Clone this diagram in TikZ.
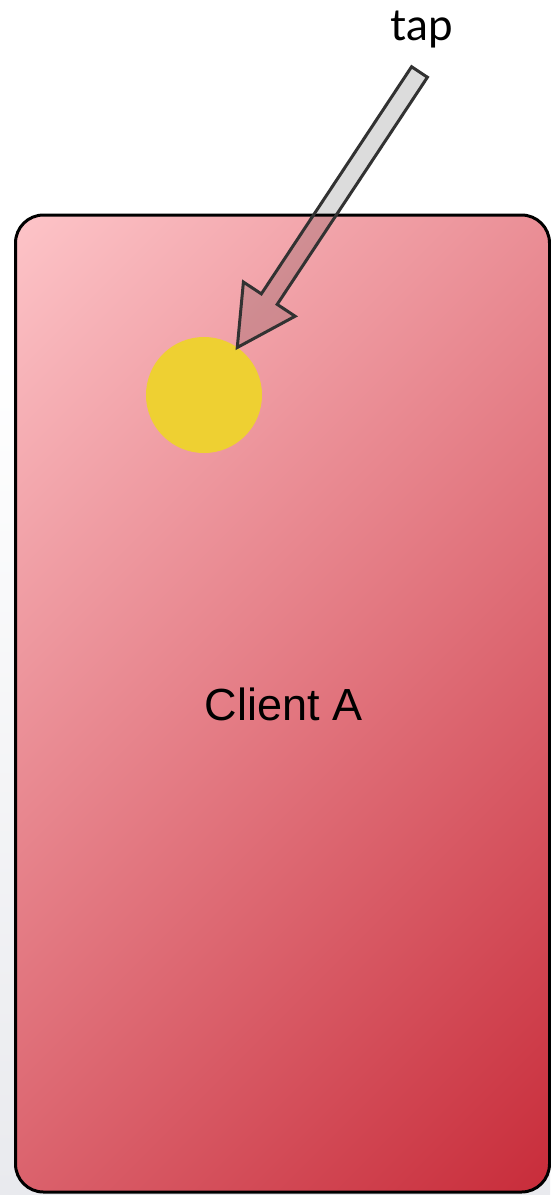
\documentclass[tikz,border=0pt]{standalone}
\usepackage{fontspec}
\setmainfont{Liberation Sans}
\newfontfamily\tapfont{Lato}
\usetikzlibrary{calc}
\definecolor{pinklight}{RGB}{253,196,200}
\definecolor{reddark}{RGB}{200,44,58}
\definecolor{dotyellow}{RGB}{238,208,50}
\definecolor{arrowfill}{RGB}{220,220,220}
\definecolor{arrowline}{RGB}{50,50,50}
\definecolor{bgbottom}{RGB}{233,234,238}
\tikzset{
  clientbox/.style={draw=black, line width=3pt, rounded corners=28pt},
  tapdot/.style={circle, fill=dotyellow, minimum size=116pt, inner sep=0pt, outer sep=0pt},
  blockarrow/.style={draw=arrowline, line width=3pt, line join=miter},
  labeltext/.style={inner sep=0pt, anchor=base}
}
\begin{document}
\begin{tikzpicture}[x=1pt,y=-1pt]
\useasboundingbox (0,0) rectangle (550,1195);
% background
\fill[white] (0,0) rectangle (550,1195);
\shade[top color=white, bottom color=bgbottom] (0,350) rectangle (550,1195);
% client box with diagonal gradient
\begin{scope}
  \clip[rounded corners=28pt] (15.5,215) rectangle (549.5,1192);
  \shade[top color=pinklight, bottom color=reddark, shading angle=45]
    (-252.5,168.5) rectangle (817.5,1238.5);
\end{scope}
\draw[clientbox] (15.5,215) rectangle (549.5,1192);
\node[labeltext, font=\fontsize{45}{54}\selectfont] (client) at (283.5,720) {Client A};
% tap dot
\node[tapdot] (dot) at (204,395) {};
% arrow
\coordinate (tail) at (419.5,72);
\coordinate (tip) at (dot.55);
\coordinate (hb) at ($(tip)!58pt!(tail)$);
\coordinate (lw) at ($(hb)!31pt!90:(tail)$);
\coordinate (rw) at ($(hb)!31pt!-90:(tail)$);
\coordinate (ls) at ($(hb)!9.5pt!90:(tail)$);
\coordinate (rs) at ($(hb)!9.5pt!-90:(tail)$);
\coordinate (lt) at ($(tail)!9.5pt!-90:(tip)$);
\coordinate (rt) at ($(tail)!9.5pt!90:(tip)$);
% soft shadow, kept outside the arrow itself
\begin{scope}[even odd rule]
  \clip (0,0) rectangle (550,1195)
    (tip) -- (lw) -- (ls) -- (lt) -- (rt) -- (rs) -- (rw) -- cycle;
  \foreach \o/\a in {6/0.04,4.5/0.05,3/0.06}{
    \fill[black, fill opacity=\a, shift={(\o pt,-\o pt)}]
      (tip) -- (lw) -- (ls) -- (lt) -- (rt) -- (rs) -- (rw) -- cycle;
  }
\end{scope}
\begin{scope}[blend mode=multiply]
  \fill[arrowfill] (tip) -- (lw) -- (ls) -- (lt) -- (rt) -- (rs) -- (rw) -- cycle;
\end{scope}
\draw[blockarrow] (tip) -- (lw) -- (ls) -- (lt) -- (rt) -- (rs) -- (rw) -- cycle;
\node[labeltext, font=\tapfont\fontsize{44}{52}\selectfont] (tap) at (422,40) {tap};
\end{tikzpicture}
\end{document}
